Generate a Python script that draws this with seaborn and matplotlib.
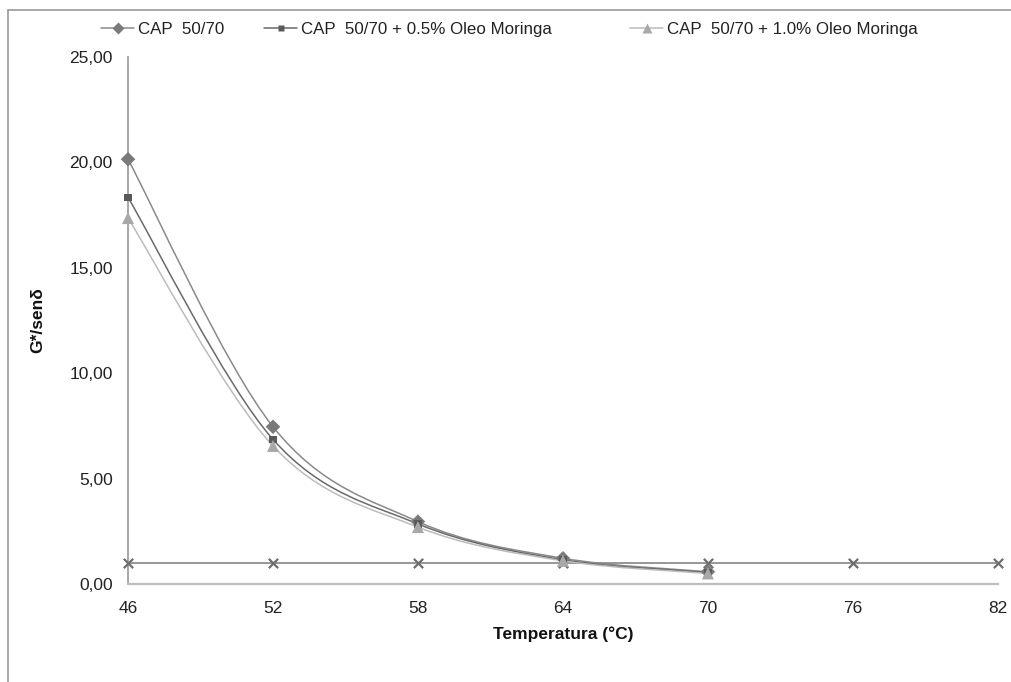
import numpy as np
import pandas as pd
import seaborn as sns
import matplotlib
matplotlib.use("Agg")
import matplotlib.pyplot as plt
from matplotlib.path import Path
from matplotlib.patches import PathPatch
from matplotlib.lines import Line2D
from matplotlib.ticker import FuncFormatter

temps = [46, 52, 58, 64, 70]
cap = [20.15, 7.46, 2.96, 1.22, 0.58]
cap_05 = [18.34, 6.86, 2.85, 1.15, 0.55]
cap_10 = [17.36, 6.55, 2.70, 1.10, 0.50]
ref_temps = [46, 52, 58, 64, 70, 76, 82]
ref_vals = [1, 1, 1, 1, 1, 1, 1]

labels = ["CAP  50/70", "CAP  50/70 + 0.5% Oleo Moringa", "CAP  50/70 + 1.0% Oleo Moringa"]

df = pd.DataFrame({
    "temp": temps * 3,
    "g": cap + cap_05 + cap_10,
    "serie": [labels[0]] * 5 + [labels[1]] * 5 + [labels[2]] * 5,
})

sns.set_style("white")
plt.rcParams["font.family"] = ["Liberation Sans", "DejaVu Sans"]

fig = plt.figure(figsize=(10.12, 6.82), dpi=100)
ax = fig.add_axes([0.1265, 0.1437, 0.8595, 0.7727])

# Excel-like smoothed line (Catmull-Rom as cubic Bezier)
def smooth_path(xs, ys):
    p = np.column_stack([xs, ys]).astype(float)
    n = len(p)
    verts = [p[0]]
    codes = [Path.MOVETO]
    for i in range(n - 1):
        p0 = p[i - 1] if i > 0 else p[i]
        p3 = p[i + 2] if i + 2 < n else p[i + 1]
        c1 = p[i] + (p[i + 1] - p0) / 6
        c2 = p[i + 1] - (p3 - p[i]) / 6
        verts += [c1, c2, p[i + 1]]
        codes += [Path.CURVE4] * 3
    return Path(verts, codes)

styles = {
    labels[0]: dict(marker="D", line="#8a8a8a", face="#7a7a7a", s=55),
    labels[1]: dict(marker="s", line="#6a6a6a", face="#5a5a5a", s=28),
    labels[2]: dict(marker="^", line="#bcbcbc", face="#a8a8a8", s=75),
}

# reference line at 1,00
ax.plot(ref_temps, ref_vals, color="#7a7a7a", lw=1.1, zorder=2)
sns.scatterplot(x=ref_temps, y=ref_vals, marker="x", s=45, color="#6e6e6e",
                linewidth=1.6, ax=ax, zorder=3, clip_on=False)

for lab in labels:
    st = styles[lab]
    sub = df[df.serie == lab]
    ax.add_patch(PathPatch(smooth_path(sub.temp, sub.g), fill=False,
                           edgecolor=st["line"], lw=1.1, zorder=4))
    sns.scatterplot(data=sub, x="temp", y="g", marker=st["marker"], s=st["s"],
                    color=st["face"], edgecolor="none", ax=ax, zorder=5, clip_on=False)

ax.set_xlim(46, 82)
ax.set_ylim(0, 25)
ax.set_xticks(ref_temps)
ax.set_yticks([0, 5, 10, 15, 20, 25])
ax.yaxis.set_major_formatter(FuncFormatter(lambda v, _: f"{v:.2f}".replace(".", ",")))
ax.tick_params(axis="both", length=0, labelsize=12.5, colors="#222222")
ax.tick_params(axis="y", pad=11)
ax.tick_params(axis="x", pad=12.5)

ax.set_xlabel("Temperatura (°C)", fontsize=12.5, fontweight="bold", color="#111111")
ax.set_ylabel("G*/senδ", fontsize=12.5, fontweight="bold", color="#111111")
ax.xaxis.set_label_coords(0.5, -0.08)
ax.yaxis.set_label_coords(-0.0954, 0.5)

sns.despine(ax=ax)
ax.spines["left"].set_color("#a0a0a0")
ax.spines["bottom"].set_color("#bdbdbd")
ax.spines["left"].set_linewidth(1.3)
ax.spines["bottom"].set_linewidth(1.6)

# legend entries placed one by one along the top
legend_x = [101, 264, 630]
for lab, lx in zip(labels, legend_x):
    st = styles[lab]
    h = Line2D([], [], color=st["line"], lw=1.1, marker=st["marker"],
               markerfacecolor=st["face"], markeredgecolor="none",
               markersize=np.sqrt(st["s"]) * 0.85)
    leg = fig.legend([h], [lab], loc="upper left", bbox_to_anchor=(lx / 1012, 0.968),
                     frameon=False, fontsize=12.2, handlelength=1.95, handletextpad=0.24,
                     borderpad=0, borderaxespad=0, labelcolor="#222222")

# outer chart-area border
fig.add_artist(Line2D([8 / 1012, 1], [1 - 10 / 682, 1 - 10 / 682], color="#9a9a9a", lw=1.2))
fig.add_artist(Line2D([8 / 1012, 8 / 1012], [0, 1 - 10 / 682], color="#9a9a9a", lw=1.2))

fig.savefig("out.png", dpi=100)
